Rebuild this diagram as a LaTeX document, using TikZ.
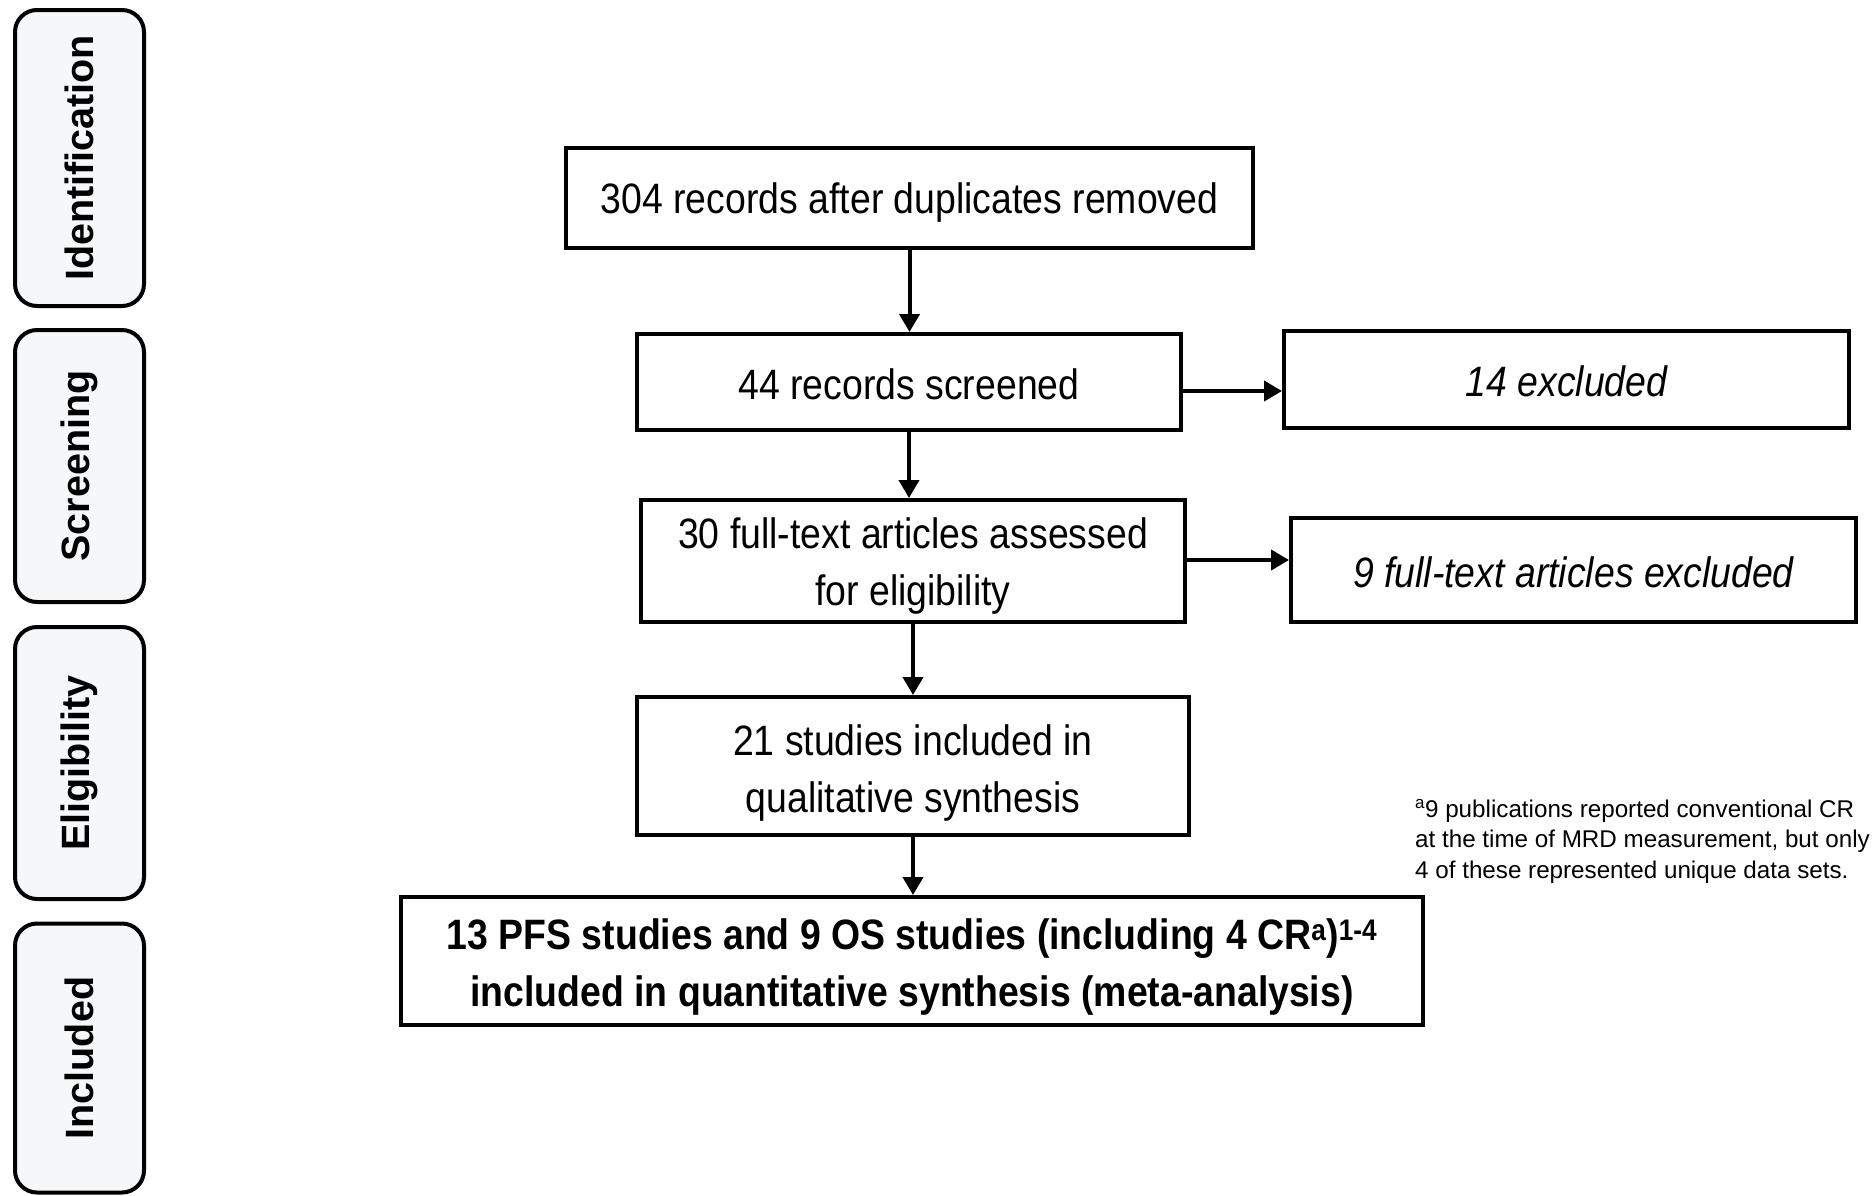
\documentclass[tikz,border=0pt]{standalone}
\usepackage{fontspec}
\setmainfont{Liberation Sans}
\newfontfamily\narrowfont[FakeStretch=0.88]{Liberation Sans}
\usetikzlibrary{arrows.meta,calc}
\definecolor{sidefill}{HTML}{F5F7F9}
\tikzset{
  sidebox/.style={draw=black, line width=4pt, rounded corners=22pt, fill=sidefill,
    minimum width=129pt, inner sep=0pt},
  sidelabel/.style={rotate=90, font=\fontsize{39.5}{45}\selectfont\bfseries},
  mainbox/.style={draw=black, line width=4pt, fill=white, inner sep=0pt},
  boxtext/.style={inner sep=0pt, align=center, font=\narrowfont\fontsize{42.5}{57}\selectfont},
  arr/.style={line width=4pt, -{Triangle[length=18pt,width=20pt]}},
}
\begin{document}
\begin{tikzpicture}[x=1pt,y=-1pt]
\useasboundingbox (0,0) rectangle (1875,1195);
\fill[white] (0,0) rectangle (1875,1195);

% stage boxes
\node[sidebox, minimum height=296pt] (sid) at (79.5,158) {};
\node[sidelabel] (lid) at (sid.center) {Identification};
\node[sidebox, minimum height=272pt] (sscr) at (79.5,466) {};
\node[sidelabel] (lscr) at (sscr.center) {Screening};
\node[sidebox, minimum height=272pt] (selig) at (79.5,763) {};
\node[sidelabel] (lelig) at (selig.center) {Eligibility};
\node[sidebox, minimum height=269pt] (sinc) at (79.5,1058) {};
\node[sidelabel] (linc) at (sinc.center) {Included};

% main flow boxes
\node[mainbox, minimum width=687pt, minimum height=100pt] (b1) at (909.5,198) {};
\node[mainbox, minimum width=544pt, minimum height=96pt] (b2) at (909,382) {};
\node[mainbox, minimum width=565pt, minimum height=97pt] (e1) at (1566.5,379.5) {};
\node[mainbox, minimum width=544pt, minimum height=122pt] (b3) at (913,561) {};
\node[mainbox, minimum width=565pt, minimum height=104pt] (e2) at (1573.5,570) {};
\node[mainbox, minimum width=552pt, minimum height=138pt] (b4) at (913,766) {};
\node[mainbox, minimum width=1022pt, minimum height=128pt] (b5) at (912,961) {};

% texts
\node[boxtext] (t1) at ($(b1.center)+(0,5)$) {304 records after duplicates removed};
\node[boxtext] (t2) at ($(b2.center)+(0,2)$) {44 records screened};
\node[boxtext, font=\narrowfont\itshape\fontsize{42.5}{57}\selectfont] (te1) at ($(e1.center)+(0,2)$) {14 excluded};
\node[boxtext] (t3) at ($(b3.center)+(0,5)$) {30 full-text articles assessed\\for eligibility};
\node[boxtext, font=\narrowfont\itshape\fontsize{42.5}{57}\selectfont] (te2) at ($(e2.center)+(0,2)$) {9 full-text articles excluded};
\node[boxtext] (t4) at ($(b4.center)+(0,7)$) {21 studies included in\\qualitative synthesis};
\node[boxtext, font=\narrowfont\bfseries\fontsize{42.5}{57}\selectfont] (t5) at ($(b5.center)+(0,6)$)
  {13 PFS studies and 9 OS studies (including 4 CR\textsuperscript{a})\textsuperscript{1-4}\\included in quantitative synthesis (meta-analysis)};

% footnote
\node[anchor=north west, align=left, inner sep=0pt, font=\fontsize{24.2}{30.5}\selectfont] (fn) at (1415,799)
  {\textsuperscript{a}9 publications reported conventional CR\\at the time of MRD measurement, but only\\4 of these represented unique data sets.};

% connectors
\draw[arr] (b1.south) -- (b1.south |- b2.north);
\draw[arr] (b2.south) -- (b2.south |- b3.north);
\draw[arr] (b3.south) -- (b3.south |- b4.north);
\draw[arr] (b4.south) -- (b4.south |- b5.north);
\coordinate (h1) at ($(b2.east)+(0,9)$);
\coordinate (h2) at ($(b3.east)+(0,-1)$);
\draw[arr] (h1) -- (h1 -| e1.west);
\draw[arr] (h2) -- (h2 -| e2.west);
\end{tikzpicture}
\end{document}
